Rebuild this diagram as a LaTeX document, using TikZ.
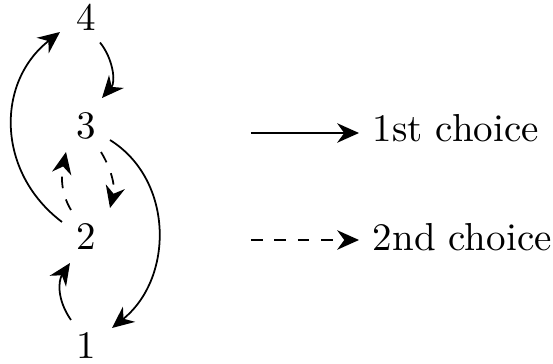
\documentclass[tikz,border=0pt]{standalone}
\usetikzlibrary{arrows.meta,calc}
\begin{document}
\begin{tikzpicture}[x=0.2564pt,y=-0.2564pt,
  >={Stealth[length=5.6pt,width=5pt]},
  line width=0.45pt,
  num/.style={inner sep=0pt},
  arr/.style={->},
  alt/.style={->,dashed},
  legtext/.style={anchor=base west,inner sep=0pt}]
\useasboundingbox (0,0) rectangle (553,364);
\node[num] (n4) at (86,17.5) {4};
\node[num] (n3) at (86,126) {3};
\node[num] (n2) at (86,236.5) {2};
\node[num] (n1) at (86,345.5) {1};
% solid arrows
\draw[arr] ($(n4)+(14,25)$) .. controls +(13,16) and +(14,-16) .. ($(n3)+(16,-28)$);
\draw[arr] ($(n2)+(-24,-14.5)$) .. controls +(-66,-50) and +(-64,50) .. ($(n4)+(-26,14.5)$);
\draw[arr] ($(n3)+(24,14)$) .. controls +(64,40) and +(62,-50) .. ($(n1)+(26,-17.5)$);
\draw[arr] ($(n1)+(-15,-25.5)$) .. controls +(-14,-20) and +(-12,18) .. ($(n2)+(-16,26.5)$);
% dashed arrows
\draw[alt] ($(n2)+(-15,-26.5)$) .. controls +(-12,-20) and +(-4,20) .. ($(n3)+(-20,26)$);
\draw[alt] ($(n3)+(15,26)$) .. controls +(12,20) and +(5,-20) .. ($(n2)+(24,-28.5)$);
% legend
\node[legtext] (t1) at (372,141) {1st choice};
\node[legtext] (t2) at (372,250) {2nd choice};
\coordinate (l1s) at (251,133);
\coordinate (l1e) at (359,133);
\coordinate (l2s) at (251,240);
\coordinate (l2e) at (359,240);
\draw[arr] (l1s) -- (l1e);
\draw[alt] (l2s) -- (l2e);
\end{tikzpicture}
\end{document}
